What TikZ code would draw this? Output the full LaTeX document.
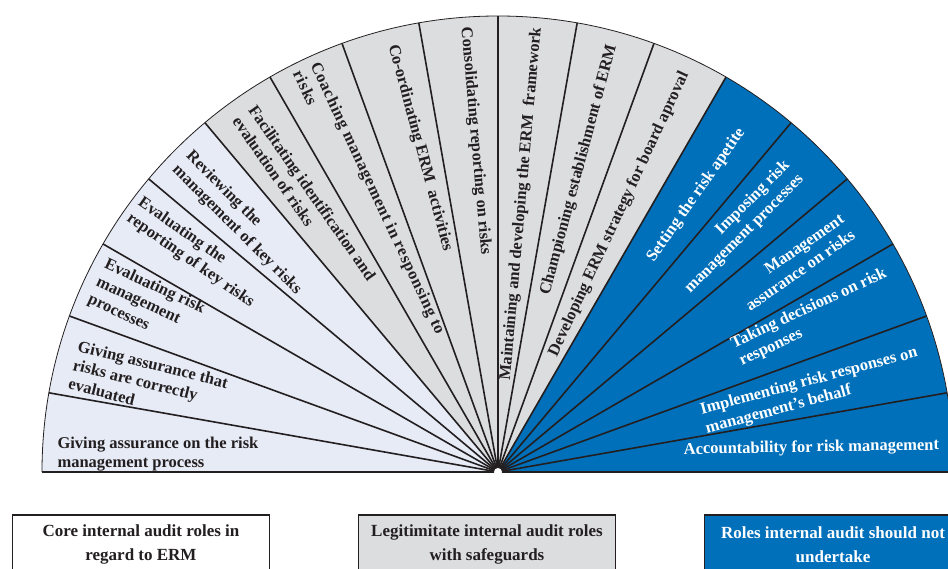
\documentclass[tikz,border=0pt]{standalone}
\usepackage{fontspec}
\setmainfont{Liberation Serif}
\usepackage{tikz}
\usetikzlibrary{calc}
\definecolor{corefill}{RGB}{231,235,246}
\definecolor{guardfill}{RGB}{220,221,223}
\definecolor{avoidfill}{RGB}{0,112,186}
\definecolor{ink}{RGB}{35,31,32}
\tikzstyle{core}=[fill=corefill]
\tikzstyle{guard}=[fill=guardfill]
\tikzstyle{avoid}=[fill=avoidfill]
\tikzstyle{spoke}=[draw=ink, line width=1.6pt]
\tikzstyle{role}=[inner sep=0pt, align=left, text=ink,% labels inside the fan
font=\fontsize{16.5}{19.5}\selectfont\bfseries]
\tikzstyle{roleout}=[role, text=white]
\tikzstyle{legend}=[draw=ink, line width=1.6pt, anchor=north, align=center,%
minimum width=257pt, minimum height=60pt, inner sep=0pt,
font=\fontsize{17}{24}\selectfont\bfseries]

\begin{document}
\begin{tikzpicture}[x=1pt,y=1pt]
\clip (-498,-97) rectangle (450,472);
% the three groups of the fan
\fill[core] (0,0) -- (130:456) arc[start angle=130, end angle=180, radius=456] -- cycle;
\fill[guard] (0,0) -- (60:456) arc[start angle=60, end angle=130, radius=456] -- cycle;
\fill[avoid] (0,0) -- (0:456) arc[start angle=0, end angle=60, radius=456] -- cycle;
\foreach \a in {10,20,...,170}
  \draw[spoke] (0,0) -- (\a:456);
\draw[ink, line width=0.8pt] (0:456) arc[start angle=0, end angle=180, radius=456];
\draw[ink, line width=1.2pt] (-456,0) -- (456,0);
\fill[white] (0,0) circle (4);

% core roles
\node[role, anchor=west] (giveproc) at (177.7:441) {Giving assurance on the risk\\management process};
\node[role, anchor=west, rotate=-14] (giveeval) at (165.8:438) {Giving assurance that\\risks are correctly\\evaluated};
\node[role, anchor=west, rotate=-25] (evalproc) at (154.6:444) {Evaluating risk\\management\\processes};
\node[role, anchor=west, rotate=-35] (evalrep) at (144.2:449) {Evaluating the\\reporting of key risks};
\node[role, anchor=west, rotate=-45] (review) at (135.5:444) {Reviewing the\\management of key risks};

% legitimate roles with safeguards
\node[role, anchor=west, rotate=-55] (facil) at (125.2:440) {Facilitating identification and\\evaluation of risks};
\node[role, anchor=west, rotate=-65, font=\fontsize{16.5}{19.5}\selectfont\bfseries\addfontfeature{LetterSpace=4}] (coach) at (115.3:448) {Coaching management in responsing to\\risks};
\node[role, anchor=west, rotate=-75] (coord) at (103.9:440) {Co-ordinating ERM\ \ activities};
\node[role, anchor=west, rotate=-85] (consol) at (94.2:446) {Consolidating reporting on risks};
\node[role, anchor=east, rotate=85] (maint) at (85:446) {Maintaining and developing the ERM\ \ framework};
\node[role, anchor=east, rotate=75] (champ) at (75:442) {Championing establishment of ERM};
\node[role, anchor=east, rotate=65] (strat) at (64.9:441) {Developing ERM strategy for board aproval};

% roles to avoid
\node[roleout, anchor=east, rotate=55] (appetite) at (54.5:420) {Setting the risk apetite};
\node[roleout, anchor=east, rotate=45, align=right] (impose) at (45.5:423) {Imposing risk\\management processes};
\node[roleout, anchor=east, rotate=35, align=right] (mgmtassure) at (35.2:428) {Management\\assurance on risks};
\node[roleout, anchor=east, rotate=25] (decide) at (25.9:436) {Taking decisions on risk\\responses};
\node[roleout, anchor=east, rotate=15] (implement) at (14.6:436) {Implementing risk responses on\\management's behalf};
\node[roleout, anchor=east, rotate=1] (account) at (3.4:442) {Accountability for risk management};

% key
\node[legend, fill=white, text=ink] (corekey) at (-357,-42) {Core internal audit roles in\\regard to ERM};
\node[legend, fill=guardfill, text=ink] (guardkey) at (-11,-42) {Legitimitate internal audit roles\\with safeguards};
\node[legend, fill=avoidfill, text=white] (avoidkey) at (335,-42) {Roles internal audit should not\\undertake};
\end{tikzpicture}
\end{document}
